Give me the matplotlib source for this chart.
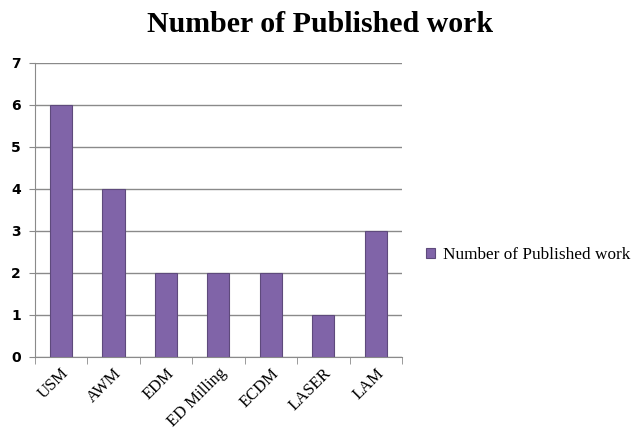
import numpy as np
import matplotlib.pyplot as plt

categories = ['USM', 'AWM', 'EDM', 'ED Milling', 'ECDM', 'LASER', 'LAM']
values = [6, 4, 2, 2, 2, 1, 3]
series_name = 'Number of Published work'

fig = plt.figure(figsize=(6.33, 4.4), dpi=100)
ax = fig.add_axes([0.055, 0.189, 0.58, 0.668])

x = np.arange(len(categories))
bars = ax.bar(x, values, width=0.42, color='#8064A8', edgecolor='#5E4A7C',
              linewidth=0.8, label=series_name, zorder=3)

ax.set_xlim(-0.5, len(categories) - 0.5)
ax.set_ylim(0, 7)
ax.set_yticks(range(0, 8))
ax.yaxis.grid(True, color='#8a8a8a', linewidth=1.0, zorder=0)
for s in ['top', 'right']:
    ax.spines[s].set_visible(False)
ax.spines['left'].set_color('#8a8a8a')
ax.spines['bottom'].set_color('#8a8a8a')

ax.set_xticks(x)
ax.set_xticklabels(categories, rotation=45, ha='right', rotation_mode='anchor',
                   fontfamily='Liberation Serif', fontsize=12)
ax.set_xticks(np.arange(-0.5, len(categories)), minor=True)
ax.tick_params(axis='x', which='major', length=0, pad=6)
ax.tick_params(axis='x', which='minor', length=5, color='#8a8a8a')
ax.tick_params(axis='y', length=4, color='#8a8a8a', labelsize=10, pad=6)
for t in ax.get_yticklabels():
    t.set_fontweight('bold')
    t.set_fontfamily('DejaVu Sans')

fig.suptitle(series_name, x=0.505, y=0.975, fontsize=21.5, fontweight='bold',
             fontfamily='Liberation Serif')

fig.legend(loc='center left', bbox_to_anchor=(0.673, 0.42), frameon=False,
           borderaxespad=0, borderpad=0,
           prop={'family': 'Liberation Serif', 'size': 12.4},
           handlelength=0.55, handleheight=0.55, handletextpad=0.45)

fig.savefig('out.png', dpi=100)
